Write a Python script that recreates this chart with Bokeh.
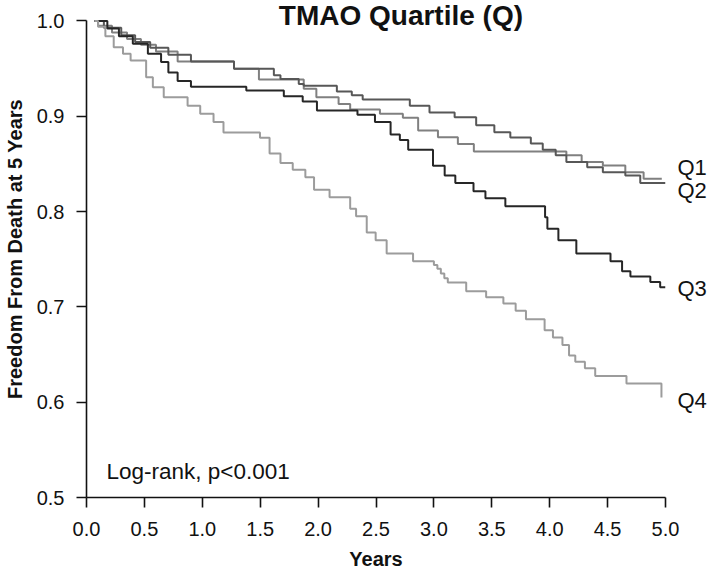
import math
from bokeh.plotting import figure
from bokeh.models import Range1d, FixedTicker, Label, NumeralTickFormatter, LinearAxis
from bokeh.embed import file_html
from bokeh.resources import INLINE

# ---- data ----
q1_time = [0.07, 0.10, 0.22, 0.35, 0.47, 0.60, 0.787, 1.274, 1.489, 1.876, 1.985, 2.177, 2.277,
           2.534, 2.732, 2.864, 3.035, 3.207, 3.345, 4.144, 4.276, 4.459, 4.653, 4.811, 4.968]
q1_surv = [1.0, 0.995, 0.988, 0.981, 0.975, 0.968, 0.9575, 0.950, 0.9386, 0.929, 0.920, 0.913, 0.907,
           0.9026, 0.8985, 0.885, 0.878, 0.871, 0.863, 0.859, 0.852, 0.8484, 0.8414, 0.8344, 0.8344]

q2_time = [0.07, 0.15, 0.30, 0.42, 0.55, 0.707, 0.902, 1.274, 1.618, 1.675, 1.833, 1.876, 2.162, 2.291,
           2.385, 2.792, 2.962, 3.179, 3.365, 3.522, 3.66, 3.837, 3.94, 4.052, 4.144, 4.324, 4.459,
           4.653, 4.782, 5.0]
q2_surv = [1.0, 0.993, 0.985, 0.978, 0.972, 0.9645, 0.9575, 0.950, 0.943, 0.939, 0.934, 0.932, 0.926, 0.922,
           0.9176, 0.911, 0.904, 0.899, 0.8905, 0.8833, 0.8777, 0.8715, 0.865, 0.859, 0.852, 0.8466, 0.8414,
           0.838, 0.830, 0.830]

q3_time = [0.07, 0.18, 0.28, 0.40, 0.53, 0.644, 0.707, 0.787, 0.902, 1.38, 1.704, 1.867, 1.99, 2.34,
           2.491, 2.626, 2.706, 2.778, 2.992, 3.093, 3.185, 3.342, 3.445, 3.617, 3.96, 3.98, 4.075,
           4.23, 4.525, 4.625, 4.697, 4.869, 4.954, 5.0]
q3_surv = [1.0, 0.992, 0.984, 0.976, 0.9656, 0.957, 0.946, 0.937, 0.931, 0.927, 0.921, 0.9155, 0.906, 0.9015,
           0.894, 0.881, 0.875, 0.865, 0.848, 0.838, 0.830, 0.8214, 0.814, 0.8057, 0.794, 0.782, 0.770,
           0.756, 0.748, 0.7375, 0.732, 0.726, 0.7207, 0.7207]

q4_time = [0.07, 0.10, 0.163, 0.235, 0.315, 0.381, 0.515, 0.573, 0.667, 0.873, 0.982, 1.097, 1.183,
           1.498, 1.581, 1.675, 1.781, 1.89, 1.965, 2.099, 2.277, 2.328, 2.42, 2.497, 2.592, 2.82,
           3.00, 3.03, 3.06, 3.09, 3.12, 3.279, 3.451, 3.60, 3.706, 3.795, 3.956, 4.028, 4.11, 4.167,
           4.221, 4.304, 4.393, 4.663, 4.965]
q4_surv = [1.0, 0.994, 0.984, 0.9725, 0.9656, 0.9586, 0.941, 0.9305, 0.920, 0.911, 0.9026, 0.894, 0.883,
           0.8775, 0.861, 0.851, 0.844, 0.836, 0.823, 0.815, 0.803, 0.795, 0.778, 0.770, 0.756, 0.748,
           0.744, 0.740, 0.735, 0.730, 0.7255, 0.7165, 0.710, 0.7035, 0.696, 0.687, 0.6755, 0.668, 0.660, 0.649,
           0.6425, 0.6355, 0.6275, 0.6195, 0.605]

series_names = ["Q1", "Q2", "Q3", "Q4"]
series_label_y = [0.8463, 0.8222, 0.7193, 0.6018]
x_ticks = [0.0, 0.5, 1.0, 1.5, 2.0, 2.5, 3.0, 3.5, 4.0, 4.5, 5.0]
y_ticks = [0.5, 0.6, 0.7, 0.8, 0.9, 1.0]

title_text = "TMAO Quartile (Q)"
x_title = "Years"
y_title = "Freedom From Death at 5 Years"
note_text = "Log-rank, p<0.001"

FONT = "Liberation Sans"

# the frame reaches above 1.0 so that the title sits inside it; the y axis is bounded to 0.5-1.0
p = figure(width=709, height=572, x_range=Range1d(0, 5), y_range=Range1d(0.5, 1.0215),
           output_backend="svg", toolbar_location=None,
           min_border_left=85, min_border_right=42, min_border_top=0, min_border_bottom=75)
p.outline_line_color = None
p.grid.visible = False
p.background_fill_color = "white"
p.border_fill_color = "white"

for ax, ticks in ((p.xaxis, x_ticks), (p.yaxis, y_ticks)):
    ax.ticker = FixedTicker(ticks=ticks)
    ax.formatter = NumeralTickFormatter(format="0.0")
    ax.major_tick_out = 10
    ax.major_tick_in = 0
    ax.minor_tick_line_color = None
    ax.axis_line_color = "#111111"
    ax.axis_line_width = 1.6
    ax.major_tick_line_color = "#111111"
    ax.major_tick_line_width = 1.6
    ax.major_label_text_font = FONT
    ax.major_label_text_font_size = "20px"
    ax.major_label_text_color = "#111111"
    ax.axis_label_text_font = FONT
    ax.axis_label_text_font_size = "20px"
    ax.axis_label_text_font_style = "bold"
    ax.axis_label_text_color = "#111111"
p.xaxis.bounds = (0, 5)
p.yaxis.bounds = (0.5, 1.0)
p.xaxis.major_label_standoff = 14
p.yaxis.major_label_standoff = 12
p.xaxis.axis_label = x_title
p.yaxis.axis_label = y_title
p.xaxis.axis_label_standoff = 9
p.yaxis.axis_label_standoff = 8

# series names at the right end of the curves, as labels of a right-hand axis
q_axis = LinearAxis(ticker=FixedTicker(ticks=series_label_y),
                    major_label_overrides={v: n for v, n in zip(series_label_y, series_names)},
                    axis_line_color=None, major_tick_line_color=None, minor_tick_line_color=None,
                    major_tick_out=0, major_tick_in=0, major_label_standoff=12,
                    major_label_text_font=FONT, major_label_text_font_size="22px",
                    major_label_text_color="#111111")
p.add_layout(q_axis, "right")

colors = ["#808080", "#575757", "#262626", "#9c9c9c"]
times = [q1_time, q2_time, q3_time, q4_time]
survs = [q1_surv, q2_surv, q3_surv, q4_surv]
for t, s, c in zip(times, survs, colors):
    p.step(x=t, y=s, mode="after", line_color=c, line_width=2)

p.add_layout(Label(x=2.715, y=1.0055, text=title_text, text_font=FONT, text_font_size="28px",
                   text_font_style="bold", text_color="#111111", text_align="center",
                   text_baseline="middle"))
p.add_layout(Label(x=0.172, y=0.5273, text=note_text, text_font=FONT, text_font_size="22.5px",
                   text_color="#111111", text_align="left", text_baseline="middle"))

open("out.html", "w").write(file_html(p, INLINE))
